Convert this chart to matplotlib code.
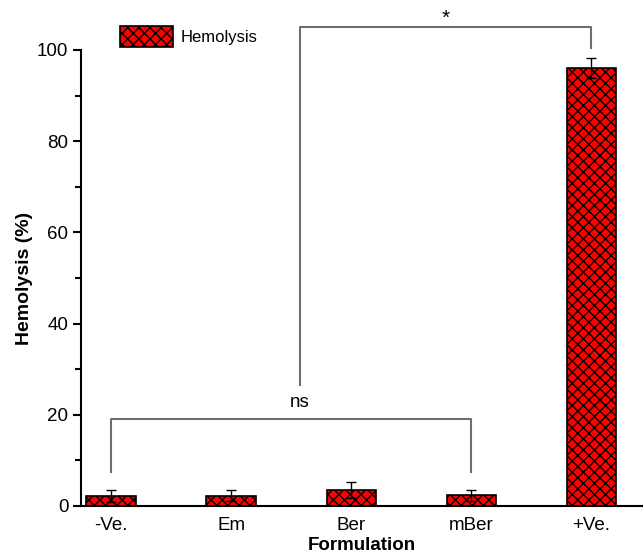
import numpy as np
import matplotlib
matplotlib.use("Agg")
import matplotlib.pyplot as plt

# hemolysis values
formulations = ['-Ve.', 'Em', 'Ber', 'mBer', '+Ve.']
hemolysis = [2.1, 2.3, 3.5, 2.4, 96.1]
errors = [1.3, 1.2, 1.7, 1.2, 2.2]

plt.rcParams['font.family'] = ['Liberation Sans', 'DejaVu Sans']
plt.rcParams['hatch.linewidth'] = 1.0

fig = plt.figure(figsize=(6.43, 5.53), dpi=100)
ax = fig.add_axes([81/643, 1 - 506/553, 1 - 81/643, (506 - 50)/553])

x = np.arange(len(formulations))
ax.bar(x, hemolysis, width=0.41, color='#ff0000', edgecolor='black',
       linewidth=1.2, hatch='xxx', label='Hemolysis', zorder=2)
ax.errorbar(x, hemolysis, yerr=errors, fmt='none', ecolor='black',
            elinewidth=1.0, capsize=3.6, capthick=1.0, zorder=3)

ax.set_xlim(-0.25, 4.43)
ax.set_ylim(0, 100)
ax.set_xticks(x)
ax.set_xticklabels(formulations, fontsize=13.5)
ax.tick_params(axis='x', length=0, pad=8)
ax.set_yticks(np.arange(0, 101, 20))
ax.set_yticks(np.arange(10, 100, 20), minor=True)
ax.tick_params(axis='y', which='major', length=6, width=1.5, labelsize=13.5, pad=3)
ax.tick_params(axis='y', which='minor', length=4, width=1.5)
for side in ['top', 'right']:
    ax.spines[side].set_visible(False)
for side in ['left', 'bottom']:
    ax.spines[side].set_linewidth(1.5)

ax.set_xlabel('Formulation', fontsize=13.5, fontweight='bold', labelpad=2)
ax.set_ylabel('Hemolysis (%)', fontsize=14, fontweight='bold', labelpad=3)

# significance brackets
gray = '#6e6e6e'
ax.plot([0, 0, 3, 3], [7.5, 19.0, 19.0, 7.5], color=gray, lw=1.5, clip_on=False)
ax.text(1.57, 22.6, 'ns', ha='center', va='center', fontsize=13.5)
ax.plot([1.575, 1.575, 4, 4], [26.5, 105, 105, 100.4], color=gray, lw=1.5, clip_on=False)
ax.text(2.79, 107.0, '*', ha='center', va='center', fontsize=15)

leg = ax.legend(loc='upper left', bbox_to_anchor=(120/643, 1 - 26/553),
                bbox_transform=fig.transFigure, frameon=False, fontsize=12,
                borderpad=0, borderaxespad=0, handlelength=3.2, handleheight=1.56,
                handletextpad=0.45)

fig.savefig('out.png', dpi=100)
